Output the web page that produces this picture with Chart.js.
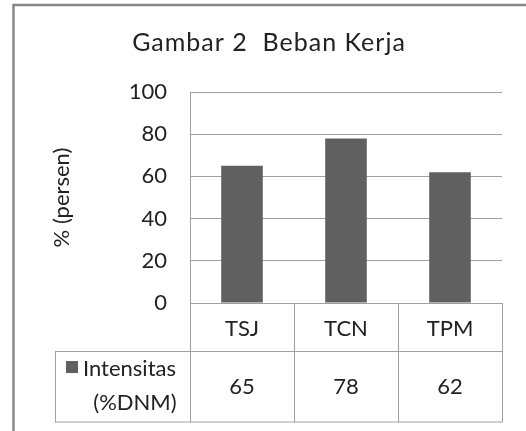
<html>
    <head>
        <script src='https://cdn.jsdelivr.net/npm/chart.js'></script>
    </head>
    <style>
        body {
            margin: 0;
            background: #ffffff;
        }
    </style>
    <body>
        <canvas id='chart1' width='526' height='431'></canvas>
        <script>
            var chartTitle = 'Gambar 2  Beban Kerja';
            var yTitle = '% (persen)';
            var categories = ['TSJ', 'TCN', 'TPM'];
            var intensitas = [65, 78, 62];
            var seriesName = ['Intensitas', '(%DNM)'];
            var yMin = 0;
            var yMax = 100;
            var yStep = 20;

            var barColor = '#606060';
            var lineColor = '#a0a0a0';
            var textColor = '#222222';
            var fontFamily = 'Lato';

            // title, outer frame and the data table under the plot
            var tablePlugin = {
                id: 'tablePlugin',
                afterDraw: function(chart) {
                    var ctx = chart.ctx;
                    var area = chart.chartArea;
                    var xs = chart.scales.x;
                    var n = categories.length;
                    var colW = (area.right - area.left) / n;
                    var row1 = area.bottom + 48;
                    var row2 = area.bottom + 118.5;
                    var tableLeft = 55;

                    ctx.save();
                    // outer frame
                    ctx.strokeStyle = '#888888';
                    ctx.lineWidth = 2.5;
                    ctx.beginPath();
                    ctx.moveTo(13.5, 431);
                    ctx.lineTo(13.5, 5);
                    ctx.lineTo(526, 5);
                    ctx.stroke();

                    // title
                    ctx.fillStyle = textColor;
                    ctx.font = '25px ' + fontFamily;
                    ctx.textAlign = 'center';
                    ctx.textBaseline = 'alphabetic';
                    if ('letterSpacing' in ctx) ctx.letterSpacing = '1px';
                    ctx.fillText(chartTitle, 269, 51);
                    if ('letterSpacing' in ctx) ctx.letterSpacing = '0px';

                    // table lines
                    ctx.strokeStyle = lineColor;
                    ctx.lineWidth = 1;
                    ctx.beginPath();
                    ctx.moveTo(area.left, area.bottom + 0.5);
                    ctx.lineTo(area.right, area.bottom + 0.5);
                    ctx.moveTo(tableLeft, row1 + 0.5);
                    ctx.lineTo(area.right, row1 + 0.5);
                    ctx.moveTo(tableLeft, row2 + 0.5);
                    ctx.lineTo(area.right, row2 + 0.5);
                    for (var k = 0; k <= n; k++) {
                        var lx = Math.round(area.left + k * colW) + 0.5;
                        ctx.moveTo(lx, area.bottom);
                        ctx.lineTo(lx, row2 + 1);
                    }
                    ctx.moveTo(tableLeft + 0.5, row1);
                    ctx.lineTo(tableLeft + 0.5, row2 + 1);
                    ctx.stroke();

                    // category labels and values
                    ctx.font = '22px ' + fontFamily;
                    ctx.textAlign = 'center';
                    for (var i = 0; i < n; i++) {
                        var cx = xs.getPixelForValue(i);
                        ctx.fillText(categories[i], cx, area.bottom + 33);
                        ctx.fillText(String(intensitas[i]), cx, row1 + 43);
                    }

                    // legend key
                    ctx.fillStyle = barColor;
                    ctx.fillRect(66, 361, 12, 12);
                    ctx.fillStyle = textColor;
                    ctx.textAlign = 'left';
                    ctx.fillText(seriesName[0], 83, row1 + 25);
                    ctx.textAlign = 'center';
                    ctx.fillText(seriesName[1], 135, row1 + 59);
                    ctx.restore();
                }
            };

            var chart = new Chart('chart1', {
                type: 'bar',
                data: {
                    labels: categories,
                    datasets: [{
                        label: seriesName.join(' '),
                        data: intensitas,
                        backgroundColor: barColor,
                        borderWidth: 0,
                        categoryPercentage: 1,
                        barPercentage: 0.4
                    }]
                },
                options: {
                    responsive: false,
                    animation: false,
                    layout: {
                        padding: {left: 45, top: 92, right: 24, bottom: 128}
                    },
                    plugins: {
                        legend: {display: false},
                        tooltip: {enabled: false}
                    },
                    scales: {
                        x: {
                            grid: {display: false, drawTicks: false},
                            border: {display: false},
                            ticks: {display: false}
                        },
                        y: {
                            min: yMin,
                            max: yMax,
                            afterFit: function(scale) {
                                scale.width = 145;
                            },
                            ticks: {
                                stepSize: yStep,
                                padding: 23,
                                color: textColor,
                                font: {family: fontFamily, size: 22}
                            },
                            grid: {
                                color: lineColor,
                                drawTicks: false
                            },
                            border: {color: lineColor},
                            title: {
                                display: true,
                                text: yTitle,
                                color: textColor,
                                padding: {top: 4, bottom: 0},
                                font: {family: fontFamily, size: 22}
                            }
                        }
                    }
                },
                plugins: [tablePlugin]
            });
        </script>
    </body>
</html>
